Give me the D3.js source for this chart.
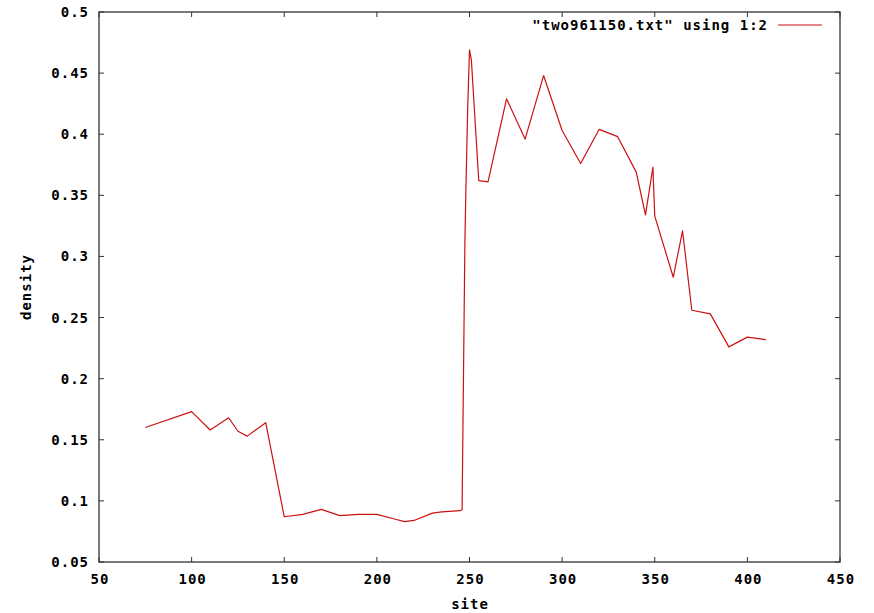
<!DOCTYPE html>
<html><head><meta charset="utf-8">
<script src="https://cdn.jsdelivr.net/npm/d3@7"></script>
<style>
body{margin:0;background:#fff;}
text{font-family:"DejaVu Sans Mono","Liberation Mono",monospace;font-weight:bold;font-size:14px;letter-spacing:1px;fill:#000;}
</style></head><body>
<svg id="c" width="874" height="613"></svg>
<script>
const sites = [75,100,110,120,125,130,140,150,160,170,180,190,200,210,215,220,230,235,245,246,247.5,248,249,250,251,255,260,270,280,290,300,310,320,330,340,345,349,350,360,365,370,380,390,400,410];
const density = [0.160,0.173,0.158,0.168,0.157,0.153,0.164,0.087,0.089,0.093,0.088,0.089,0.089,0.085,0.083,0.084,0.090,0.091,0.092,0.093,0.31,0.35,0.42,0.469,0.461,0.362,0.361,0.429,0.396,0.448,0.403,0.376,0.404,0.398,0.369,0.334,0.373,0.333,0.283,0.321,0.256,0.253,0.226,0.234,0.232];
const xTicks = [50,100,150,200,250,300,350,400,450];
const yTicks = [0.05,0.1,0.15,0.2,0.25,0.3,0.35,0.4,0.45,0.5];
const yTickLabels = ["0.05","0.1","0.15","0.2","0.25","0.3","0.35","0.4","0.45","0.5"];
const legendLabel = "\"two961150.txt\" using 1:2";

const L=99,R=840,T=12,B=562;
const svg=d3.select("#c");
const x=d3.scaleLinear().domain([50,450]).range([L,R]);
const y=d3.scaleLinear().domain([0.05,0.5]).range([B,T]);
const ax="#333";

// ticks
const g=svg.append("g");
xTicks.forEach(v=>{
  g.append("line").attr("x1",x(v)).attr("x2",x(v)).attr("y1",B).attr("y2",B-5).attr("stroke",ax);
  g.append("line").attr("x1",x(v)).attr("x2",x(v)).attr("y1",T).attr("y2",T+5).attr("stroke",ax);
  g.append("text").attr("x",x(v)+1).attr("y",584).attr("text-anchor","middle").text(v);
});
yTicks.forEach((v,i)=>{
  g.append("line").attr("x1",L).attr("x2",L+5).attr("y1",y(v)).attr("y2",y(v)).attr("stroke",ax);
  g.append("line").attr("x1",R).attr("x2",R-5).attr("y1",y(v)).attr("y2",y(v)).attr("stroke",ax);
  g.append("text").attr("x",89).attr("y",y(v)+5).attr("text-anchor","end").text(yTickLabels[i]);
});
svg.append("rect").attr("x",L).attr("y",T).attr("width",R-L).attr("height",B-T)
  .attr("fill","none").attr("stroke",ax).attr("stroke-width",1.3);

// axis titles
svg.append("text").attr("x",470).attr("y",609).attr("text-anchor","middle").text("site");
svg.append("text").attr("transform","translate(31,287) rotate(-90)").attr("text-anchor","middle").text("density");

// legend
svg.append("text").attr("x",768).attr("y",30).attr("text-anchor","end").text(legendLabel);
svg.append("line").attr("x1",778).attr("x2",822).attr("y1",25).attr("y2",25).attr("stroke","#cc1111").attr("stroke-width",1.2);

// data line
const pts=sites.map((s,i)=>[s,density[i]]);
svg.append("path").datum(pts)
  .attr("d",d3.line().x(d=>x(d[0])).y(d=>y(d[1])))
  .attr("fill","none").attr("stroke","#cc1111").attr("stroke-width",1.2).attr("stroke-linejoin","round");
</script>
</body></html>
